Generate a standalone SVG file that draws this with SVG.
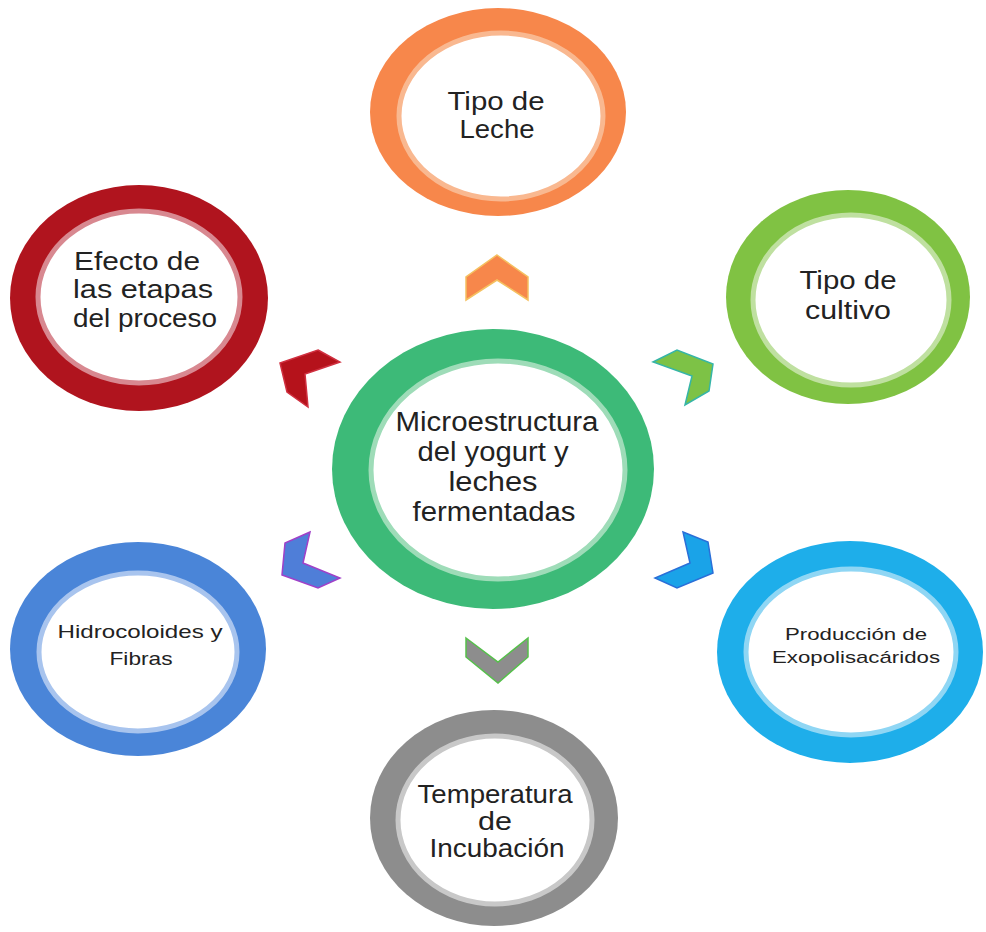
<svg xmlns="http://www.w3.org/2000/svg" width="986" height="932" viewBox="0 0 986 932">
<style>
text{font-family:"Liberation Sans",Arial,sans-serif;fill:#222;text-anchor:middle}
.inner{fill:#fff;stroke-width:5}
.chev{stroke-width:1.5;stroke-linejoin:miter}
</style>
<rect width="986" height="932" fill="#fff"/>
<g id="connectors">
<polygon class="chev" points="497,255 528,277 528,300 497,280 466,300 466,277" fill="#f7874b" stroke="#f5c060"/>
<polygon class="chev" points="653,362 677,350 713,364 709,391 685,405 692,376" fill="#7dc246" stroke="#35b5a8"/>
<polygon class="chev" points="683,532 708,542 713,573 677,588 655,578 690,563" fill="#1aa3e8" stroke="#2a6fd8"/>
<polygon class="chev" points="466,638 498,662 528,638 528,657 498,683 466,657" fill="#8d8d8d" stroke="#55c04a"/>
<polygon class="chev" points="310,532 285,543 282,575 318,588 340,578 303,563" fill="#4f7ed8" stroke="#a040c8"/>
<polygon class="chev" points="318,350 340,362 305,374 308,407 287,392 280,363" fill="#b5121b" stroke="#d03040"/>
</g>
<g id="node-leche">
<ellipse cx="498" cy="112" rx="128" ry="104" fill="#f7874b"/>
<ellipse class="inner" cx="501" cy="116" rx="102" ry="83" stroke="#f9b890"/>
<text font-size="25" x="496" y="110" textLength="97" lengthAdjust="spacingAndGlyphs">Tipo de</text>
<text font-size="25" x="497" y="138" textLength="75" lengthAdjust="spacingAndGlyphs">Leche</text>
</g>
<g id="node-cultivo">
<ellipse cx="848" cy="297" rx="122" ry="107" fill="#80c243"/>
<ellipse class="inner" cx="851" cy="300" rx="98" ry="85" stroke="#bfe0a0"/>
<text font-size="25" x="848" y="289" textLength="97" lengthAdjust="spacingAndGlyphs">Tipo de</text>
<text font-size="25" x="848" y="319" textLength="86" lengthAdjust="spacingAndGlyphs">cultivo</text>
</g>
<g id="node-efecto">
<ellipse cx="139" cy="298" rx="129" ry="113" fill="#b0141e"/>
<ellipse class="inner" cx="139" cy="297" rx="101" ry="86" stroke="#d88890"/>
<text font-size="26" x="137" y="270" textLength="126" lengthAdjust="spacingAndGlyphs">Efecto de</text>
<text font-size="26" x="143" y="298" textLength="140" lengthAdjust="spacingAndGlyphs">las etapas</text>
<text font-size="26" x="145" y="327" textLength="144" lengthAdjust="spacingAndGlyphs">del proceso</text>
</g>
<g id="node-hidrocoloides">
<ellipse cx="138" cy="649" rx="128" ry="107" fill="#4a85d8"/>
<ellipse class="inner" cx="138" cy="652" rx="99" ry="79" stroke="#a8c4ee"/>
<text font-size="19" x="140" y="638" textLength="165" lengthAdjust="spacingAndGlyphs">Hidrocoloides y</text>
<text font-size="19" x="141" y="665" textLength="63" lengthAdjust="spacingAndGlyphs">Fibras</text>
</g>
<g id="node-exopolisacaridos">
<ellipse cx="850" cy="652" rx="133" ry="111" fill="#1eaeea"/>
<ellipse class="inner" cx="851" cy="652" rx="105" ry="83" stroke="#8fd6f4"/>
<text font-size="17" x="856" y="640" textLength="142" lengthAdjust="spacingAndGlyphs">Producción de</text>
<text font-size="17" x="856" y="663" textLength="168" lengthAdjust="spacingAndGlyphs">Exopolisacáridos</text>
</g>
<g id="node-temperatura">
<ellipse cx="494" cy="818" rx="124" ry="108" fill="#8d8d8d"/>
<ellipse class="inner" cx="495" cy="820" rx="97" ry="84" stroke="#c8c8c8"/>
<text font-size="25" x="495" y="803" textLength="155" lengthAdjust="spacingAndGlyphs">Temperatura</text>
<text font-size="25" x="495" y="830" textLength="34" lengthAdjust="spacingAndGlyphs">de</text>
<text font-size="25" x="497" y="857" textLength="135" lengthAdjust="spacingAndGlyphs">Incubación</text>
</g>
<g id="node-center">
<ellipse cx="493" cy="469" rx="161" ry="140" fill="#3dba78"/>
<ellipse class="inner" cx="498" cy="470" rx="127" ry="109" stroke="#9edcb8"/>
<text font-size="27" x="497" y="431" textLength="203" lengthAdjust="spacingAndGlyphs">Microestructura</text>
<text font-size="27" x="493" y="461" textLength="151" lengthAdjust="spacingAndGlyphs">del yogurt y</text>
<text font-size="27" x="493" y="491" textLength="89" lengthAdjust="spacingAndGlyphs">leches</text>
<text font-size="27" x="494" y="521" textLength="163" lengthAdjust="spacingAndGlyphs">fermentadas</text>
</g>
</svg>
